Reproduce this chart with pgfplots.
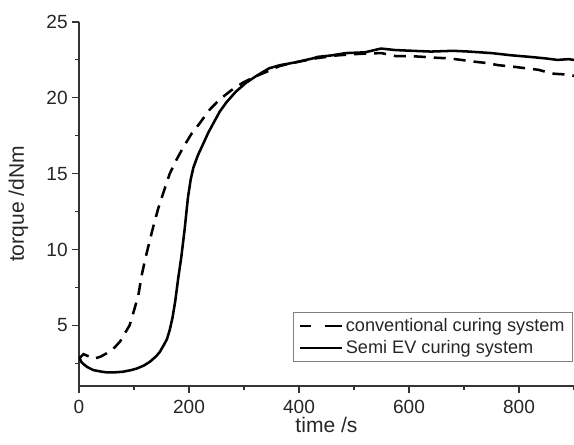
\documentclass[border=0pt]{standalone}
\usepackage{fontspec}
\setmainfont{Liberation Sans}
\usepackage{pgfplots}
\pgfplotsset{compat=1.18}
\begin{document}
\begin{tikzpicture}
\begin{axis}[
 scale only axis, width=371.25pt, height=273pt,
 xmin=0, xmax=900, ymin=1, ymax=25,
 axis x line*=bottom, axis y line*=left,
 axis line style={black!80, line width=0.8pt, -},
 xtick={0,200,...,800}, ytick={5,10,...,25},
 minor xtick={100,300,...,900}, minor ytick={2.5,7.5,...,22.5},
 tick align=outside, major tick length=5pt, minor tick length=3pt,
 every tick/.style={black!80, line width=0.8pt},
 /pgf/number format/assume math mode=true,
 ticklabel style={font=\fontsize{14.3}{16}\selectfont, text=black!85},
 xticklabel style={yshift=-2pt},
 xlabel={time /s}, ylabel={torque /dNm},
 label style={font=\fontsize{15.8}{18}\selectfont, text=black!85},
 xlabel style={at={(axis description cs:0.5,0)}, anchor=base, yshift=-35.25pt},
 ylabel style={at={(axis description cs:0,0.5)}, anchor=base, yshift=41.25pt},
 legend style={at={(1,0)}, anchor=south east, xshift=-0.75pt, yshift=18pt,
   draw=black!50, line width=0.6pt, font=\fontsize{13.6}{16}\selectfont,
   text=black!85, inner xsep=4pt, inner ysep=2.5pt, row sep=1pt,
   cells={anchor=west}},
 legend image code/.code={\draw[#1] (0pt,0pt) -- (31.5pt,0pt);},
]
\addplot[black, line width=1.9pt, dash pattern=on 9pt off 6pt,
  legend image code/.code={\draw[black, line width=1.9pt, dash pattern=on 8pt off 11pt on 12.5pt off 5pt] (0pt,0pt) -- (31.5pt,0pt);}] coordinates {
(0,2.8) (8,3.1) (18,2.95) (28,2.8) (40,2.95) (50,3.15) (65,3.55) (75,3.95)
(83,4.45) (92,5.0) (101,6.1) (108,7.0) (114,8.3) (120,9.3) (126,10.2)
(135,11.5) (144,12.7) (153,13.7) (165,15.0) (177,15.9) (189,16.7) (204,17.6)
(219,18.3) (237,19.2) (256,19.9) (277,20.5) (298,21.0) (320,21.4) (340,21.7)
(365,22.1) (395,22.35) (430,22.6) (470,22.8) (510,22.9) (550,22.95)
(576,22.75) (600,22.75) (618,22.72) (645,22.65) (673,22.6) (695,22.5)
(715,22.4) (740,22.3) (763,22.15) (790,22.05) (812,21.95) (835,21.85)
(860,21.6) (880,21.55) (900,21.45)
};
\addlegendentry{conventional curing system}
\addplot[black, line width=1.9pt] coordinates {
(0,2.95) (4,2.6) (8,2.45) (15,2.25) (26,2.05) (40,1.95) (50,1.9) (65,1.9)
(80,1.94) (95,2.05) (105,2.15) (118,2.35) (129,2.6) (140,2.95) (147,3.25)
(155,3.75) (160,4.1) (165,4.7) (170,5.5) (175,6.6) (180,8.0) (186,9.5)
(192,11.3) (198,13.4) (203,14.6) (208,15.4) (216,16.2) (225,16.9) (235,17.7)
(244,18.3) (256,19.1) (268,19.7) (285,20.4) (304,21.0) (325,21.5) (346,21.95)
(365,22.15) (395,22.35) (425,22.6) (434,22.7) (460,22.8) (485,22.95)
(520,23.0) (549,23.25) (575,23.15) (606,23.1) (640,23.05) (680,23.1)
(709,23.05) (750,22.95) (787,22.8) (820,22.7) (848,22.6) (870,22.5)
(890,22.55) (900,22.5)
};
\addlegendentry{Semi EV curing system}
\end{axis}
\pgfresetboundingbox
\useasboundingbox (-59.25pt,-44.25pt) rectangle (371.25pt,289.5pt);
\end{tikzpicture}
\end{document}
